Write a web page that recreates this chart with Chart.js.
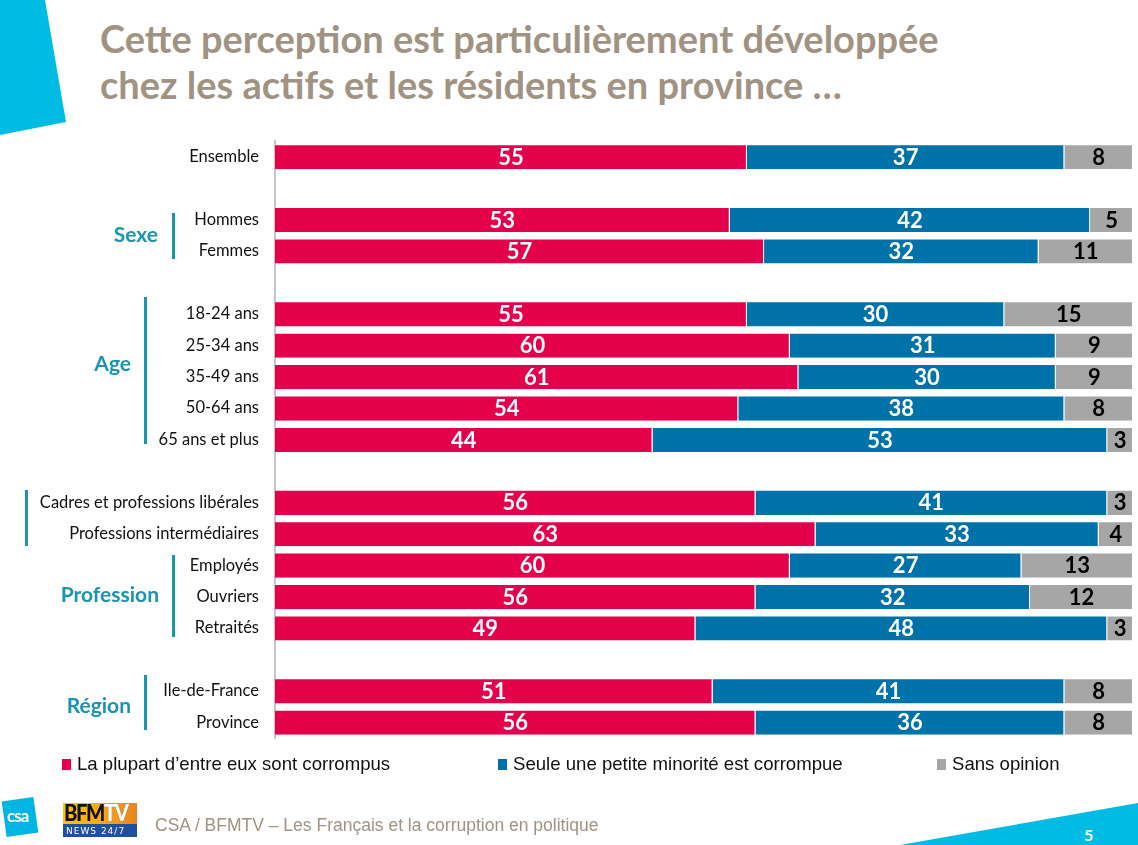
<!DOCTYPE html>
<html><head><meta charset="utf-8">
<script src="https://cdn.jsdelivr.net/npm/chart.js@4"></script>
<style>
html,body{margin:0;padding:0;background:#fff;}
body{width:1138px;height:845px;position:relative;overflow:hidden;font-family:Lato,"Open Sans",sans-serif;}
#wrap{position:absolute;left:0;top:0;width:1138px;height:845px;}
.abs{position:absolute;white-space:nowrap;}
.title{left:100px;top:15px;font:bold 38px/46px Lato,sans-serif;color:#a09383;}
.grp{font:bold 21px/26px Lato,sans-serif;color:#1a94b0;text-align:right;}
.vl{position:absolute;width:3px;background:#1a94b0;}
.leg{font:18.6px/22px "Liberation Sans",sans-serif;color:#111;}
.sq{position:absolute;width:9px;height:11px;}
.foot{left:155px;top:814px;font:17.5px/22px "Liberation Sans",sans-serif;color:#a09383;}
.news{left:66px;top:825px;font:9px/12px 'DejaVu Sans',sans-serif;color:#fff;letter-spacing:1px;}
</style></head>
<body>
<div class="abs" style="left:0;top:0;width:70px;height:140px;background:#00bce4;clip-path:polygon(0 0,45px 0,66px 122px,0 135px);"></div>
<div class="abs" style="left:900px;top:800px;width:238px;height:45px;background:#00bce4;clip-path:polygon(0 45px,238px 3px,238px 45px);"></div>
<div class="abs" style="left:1084px;top:825px;font:bold 16px/20px Lato,sans-serif;color:#fff;">5</div>
<div class="abs title">Cette perception est particulièrement développée<br>chez les actifs et les résidents en province …</div>
<div id="wrap"><canvas id="c" width="1138" height="845"></canvas></div>

<div class="abs grp" style="right:980px;top:221px;">Sexe</div>
<div class="vl" style="left:172px;top:213px;height:46px;"></div>
<div class="abs grp" style="right:1007px;top:350px;">Age</div>
<div class="vl" style="left:144px;top:297px;height:147px;"></div>
<div class="vl" style="left:25px;top:490px;height:56px;"></div>
<div class="abs grp" style="right:979px;top:581px;">Profession</div>
<div class="vl" style="left:172px;top:555px;height:82px;"></div>
<div class="abs grp" style="right:1007px;top:692px;">Région</div>
<div class="vl" style="left:144px;top:675px;height:55px;"></div>

<div class="sq" style="left:62px;top:759px;background:#e4004b;"></div>
<div class="abs leg" style="left:77px;top:753px;">La plupart d’entre eux sont corrompus</div>
<div class="sq" style="left:498px;top:759px;background:#0072aa;"></div>
<div class="abs leg" style="left:513px;top:753px;">Seule une petite minorité est corrompue</div>
<div class="sq" style="left:937px;top:759px;background:#a6a6a6;"></div>
<div class="abs leg" style="left:952px;top:753px;">Sans opinion</div>

<div class="abs" style="left:4px;top:799px;width:32px;height:36px;background:#00b5e2;transform:rotate(-8deg);"></div>
<div class="abs" style="left:7px;top:806px;font:bold 17px/20px Lato,sans-serif;color:#fff;letter-spacing:-1px;">csa</div>
<div class="abs" style="left:63px;top:803px;width:74px;height:21px;background:linear-gradient(90deg,#ffc20e 0%,#f7a21b 60%,#e8831f 100%);"></div>
<div class="abs" style="left:64px;top:801px;font:900 22px/24px Lato,sans-serif;color:#111;letter-spacing:-1.5px;transform:scaleX(0.92);transform-origin:0 0;">BFM<span style="color:#fff;text-shadow:0 0 1px #a55;">TV</span></div>
<div class="abs" style="left:63px;top:824px;width:74px;height:13px;background:#1f4f9f;"></div>
<div class="abs news">NEWS 24/7</div>
<div class="abs foot">CSA / BFMTV – Les Français et la corruption en politique</div>

<script>
const categories = ["Ensemble","","Hommes","Femmes","","18-24 ans","25-34 ans","35-49 ans","50-64 ans","65 ans et plus","","Cadres et professions libérales","Professions intermédiaires","Employés","Ouvriers","Retraités","","Ile-de-France","Province"];
const corrompus = [55,null,53,57,null,55,60,61,54,44,null,56,63,60,56,49,null,51,56];
const minorite  = [37,null,42,32,null,30,31,30,38,53,null,41,33,27,32,48,null,41,36];
const sansOpinion = [8,null,5,11,null,15,9,9,8,3,null,3,4,13,12,3,null,8,8];
const seriesNames = ["La plupart d’entre eux sont corrompus","Seule une petite minorité est corrompue","Sans opinion"];

const labelPlugin = {
  id:'vals',
  afterDatasetsDraw(chart){
    const ctx = chart.ctx;
    ctx.save();
    ctx.font = 'bold 22px Lato, sans-serif';
    ctx.textAlign='center'; ctx.textBaseline='middle';
    chart.data.datasets.forEach((ds,i)=>{
      const meta = chart.getDatasetMeta(i);
      meta.data.forEach((el,j)=>{
        const v = ds.data[j];
        if(v==null) return;
        ctx.fillStyle = i===2 ? '#000' : '#fff';
        ctx.fillText(String(v),(el.x+el.base)/2, el.y+1);
      });
    });
    ctx.restore();
  }
};

new Chart(document.getElementById('c'),{
  type:'bar',
  data:{
    labels:categories,
    datasets:[
      {label:seriesNames[0],data:corrompus,backgroundColor:'#e4004b'},
      {label:seriesNames[1],data:minorite,backgroundColor:'#0072aa'},
      {label:seriesNames[2],data:sansOpinion,backgroundColor:'#a6a6a6'}
    ]
  },
  options:{
    indexAxis:'y',
    responsive:false,
    animation:false,
    layout:{padding:{left:0,right:5,top:141,bottom:107}},
    datasets:{bar:{barPercentage:0.8,categoryPercentage:1,borderWidth:{top:1,right:1,bottom:0,left:0},borderColor:'rgba(255,255,255,0.55)',borderSkipped:false}},
    plugins:{legend:{display:false},tooltip:{enabled:false}},
    scales:{
      x:{stacked:true,min:0,max:100,display:false},
      y:{stacked:true,
        grid:{display:false,drawTicks:false},
        border:{display:true,color:'#c8c4c0',width:2},
        ticks:{padding:16,color:'#111',font:{family:'Lato',size:16.5}},
        afterFit(s){s.width=275;}
      }
    }
  },
  plugins:[labelPlugin]
});
</script>
</body></html>
